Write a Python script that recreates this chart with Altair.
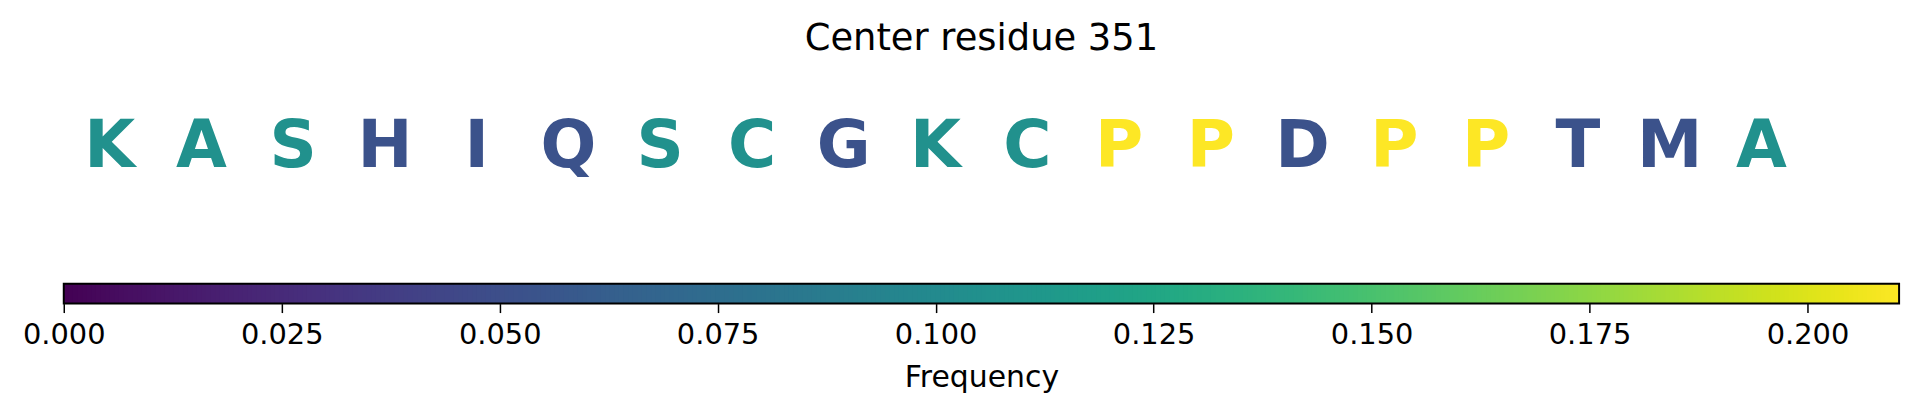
import altair as alt
import pandas as pd

# ---- data ----
letters = ["K", "A", "S", "H", "I", "Q", "S", "C", "G", "K",
           "C", "P", "P", "D", "P", "P", "T", "M", "A"]
positions = list(range(len(letters)))
frequencies = [0.1053, 0.1053, 0.1053, 0.0526, 0.0526, 0.0526, 0.1053, 0.1053, 0.0526, 0.1053,
               0.1053, 0.2105, 0.2105, 0.0526, 0.2105, 0.2105, 0.0526, 0.0526, 0.1053]
tick_values = [0.0, 0.025, 0.05, 0.075, 0.1, 0.125, 0.15, 0.175, 0.2]
freq_min, freq_max = 0.0, 0.2105
title_text = "Center residue 351"
axis_title = "Frequency"

FONT = "DejaVu Sans"

letters_df = pd.DataFrame({"letter": letters, "pos": positions, "freq": frequencies})
bounds_df = pd.DataFrame({"lo": [freq_min], "hi": [freq_max]})

color_scale = alt.Scale(scheme="viridis", domain=[freq_min, freq_max])

W, H = 1843, 234
CB_TOP, CB_BOT = 214, 234

# letters
letter_layer = alt.Chart(letters_df).mark_text(
    font=FONT, fontWeight="bold", fontSize=66, baseline="alphabetic", align="center"
).encode(
    x=alt.X("pos:Q", scale=alt.Scale(domain=[-0.5, 19.5], nice=False, zero=False), axis=None),
    y=alt.value(97),
    text="letter:N",
    color=alt.Color("freq:Q", scale=color_scale, legend=None),
)

# colorbar gradient (driven by the colour scale)
n_steps = 400
step = (freq_max - freq_min) / n_steps
gradient = alt.Chart(alt.sequence(0, n_steps, 1, as_="k")).transform_calculate(
    v=f"{freq_min} + datum.k * {step}",
    v2=f"min({freq_min} + (datum.k + 2) * {step}, {freq_max})",
).mark_rect(strokeWidth=0).encode(
    x=alt.X("v:Q", scale=alt.Scale(domain=[freq_min, freq_max], nice=False, zero=False),
            axis=alt.Axis(values=tick_values, format=".3f", title=axis_title,
                          domain=False, grid=False, tickSize=9, tickWidth=1.5,
                          tickColor="black", labelFontSize=29, labelColor="black",
                          labelFont=FONT, labelPadding=8, labelFlush=False,
                          titleFont=FONT, titleFontSize=30, titleFontWeight="normal",
                          titleColor="black", titlePadding=13)),
    x2="v2:Q",
    y=alt.value(CB_TOP),
    y2=alt.value(CB_BOT),
    color=alt.Color("v:Q", scale=color_scale, legend=None),
)

border = alt.Chart(bounds_df).mark_rect(fillOpacity=0, stroke="black", strokeWidth=2).encode(
    x=alt.X("lo:Q", scale=alt.Scale(domain=[freq_min, freq_max], nice=False, zero=False)),
    x2="hi:Q",
    y=alt.value(CB_TOP),
    y2=alt.value(CB_BOT),
)

bar = alt.layer(gradient, border)

chart = alt.layer(bar, letter_layer).resolve_scale(
    x="independent"
).properties(
    width=W,
    height=H,
    background="white",
    title=alt.TitleParams(title_text, font=FONT, fontSize=37, fontWeight="normal",
                          color="black", anchor="middle", offset=13),
    autosize=alt.AutoSizeParams(type="none"),
    padding={"left": 56, "top": 62, "right": 20, "bottom": 104},
).configure_view(strokeWidth=0, stroke="transparent")

chart.save("out.html", embed_options={"renderer": "svg", "actions": False})
